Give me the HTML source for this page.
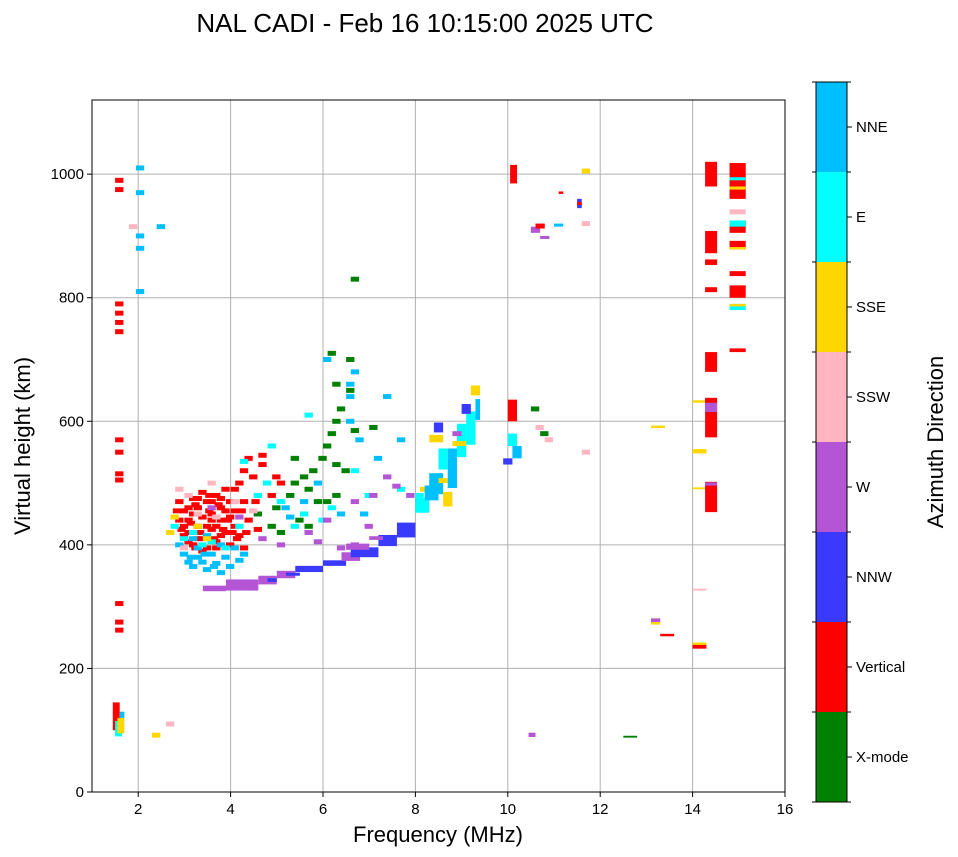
<!DOCTYPE html>
<html><head><meta charset="utf-8"><style>
body{margin:0;background:#fff}
svg{display:block;font-family:"Liberation Sans",sans-serif}
</style></head><body>
<svg id="chart" width="958" height="857">
<text x="425" y="32" text-anchor="middle" font-size="26">NAL CADI - Feb 16 10:15:00 2025 UTC</text>
<g id="grid"></g><g id="marks"></g><g id="axes"></g><g id="cbar"></g>
<text x="438" y="842" text-anchor="middle" font-size="22">Frequency (MHz)</text>
<text transform="translate(30,446) rotate(-90)" text-anchor="middle" font-size="22">Virtual height (km)</text>
<text transform="translate(943,442) rotate(-90)" text-anchor="middle" font-size="22">Azimuth Direction</text>
</svg>
<script>
const categories=["X-mode","Vertical","NNW","W","SSW","SSE","E","NNE"];
const catColors=["#008000","#ff0000","#3a3aff","#b455d6","#ffb6c1","#ffd700","#00ffff","#00bfff"];
const xTicks=[2,4,6,8,10,12,14,16];
const yTicks=[0,200,400,600,800,1000];
// single cells: [freq MHz, height km, category]
const cells=[
[2.8,470,1],[2.9,455,1],[3.0,440,1],[3.0,420,1],[3.1,475,1],[3.1,400,1],[3.2,460,1],[3.2,430,1],[3.3,485,1],[3.3,445,1],[3.3,410,1],[3.4,470,1],[3.4,395,1],[3.5,450,1],[3.5,425,1],[3.6,480,1],[3.6,405,1],[3.7,460,1],[3.7,440,1],[3.8,420,1],[3.8,490,1],[3.9,470,1],[3.9,400,1],[4.0,455,1],[4.0,430,1],[4.1,500,1],[4.1,415,1],[4.2,520,1],[4.2,470,1],[4.3,440,1],[4.4,510,1],[4.5,425,1],[2.9,430,1],[3.0,460,1],[3.2,410,1],[3.5,470,1],[3.6,430,1],[2.8,440,1],[3.1,450,1],[3.4,430,1],[3.7,415,1],[3.9,445,1],[4.0,490,1],[4.3,540,1],[4.6,530,1],[4.8,480,1],[5.0,500,1],[3.3,390,1],[3.6,395,1],[4.2,395,1],[3.0,405,1],[3.5,440,1],[3.8,455,1],[2.9,415,1],[3.2,475,1],
[2.85,425,1],[3.05,435,1],[3.15,465,1],[3.25,420,1],[3.45,455,1],[3.55,410,1],[3.65,465,1],[3.75,425,1],[3.85,440,1],[3.95,420,1],[4.05,410,1],[4.15,455,1],[3.45,480,1],[3.15,395,1],[4.45,470,1],[4.25,420,1],[3.7,475,1],[4.6,545,1],[4.9,510,1],[2.75,455,1],
[2.9,385,7],[3.0,372,7],[3.1,365,7],[3.2,380,7],[3.3,372,7],[3.4,360,7],[3.5,385,7],[3.6,370,7],[3.7,355,7],[3.8,380,7],[3.9,365,7],[4.0,395,7],[4.1,375,7],[4.2,385,7],[2.8,400,7],[3.1,410,7],[3.4,415,7],[3.7,400,7],[4.4,330,7],[4.0,340,7],[3.2,395,7],[5.1,460,7],[5.2,445,7],[5.5,470,7],[5.8,500,7],[6.5,640,7],[6.5,600,7],[6.6,680,7],[6.5,660,7],[6.7,570,7],[6.3,450,7],[6.8,450,7],[7.1,540,7],[7.3,640,7],[7.6,570,7],[1.95,1010,7],[1.95,970,7],[1.95,900,7],[1.95,880,7],[1.95,810,7],[2.4,915,7],[6.0,700,7],[3.35,385,7],[3.05,380,7],[3.55,365,7],
[2.7,430,6],[2.9,410,6],[3.1,420,6],[3.3,400,6],[3.5,405,6],[3.8,395,6],[4.1,430,6],[4.5,480,6],[4.7,500,6],[5.0,470,6],[5.3,430,6],[5.5,450,6],[5.9,440,6],[6.1,460,6],[4.2,535,6],[6.6,520,6],[6.9,480,6],[7.6,490,6],[8.0,480,6],[8.3,500,6],[4.8,560,6],[5.6,610,6],
[4.5,450,0],[4.8,430,0],[5.0,420,0],[5.2,480,0],[5.3,500,0],[5.5,510,0],[5.6,490,0],[5.7,520,0],[5.8,470,0],[5.9,540,0],[6.0,560,0],[6.1,580,0],[6.2,600,0],[6.0,470,0],[6.3,620,0],[6.2,660,0],[6.4,520,0],[6.5,650,0],[6.5,700,0],[6.6,585,0],[6.2,480,0],[5.6,430,0],[5.4,440,0],[4.9,460,0],[6.6,830,0],[7.0,590,0],[6.1,710,0],[5.3,540,0],[10.5,620,0],[10.7,580,0],[6.2,530,0],
[4.6,410,3],[5.0,400,3],[5.6,420,3],[6.0,440,3],[6.6,470,3],[7.0,480,3],[7.3,510,3],[7.5,495,3],[7.8,480,3],[8.0,470,3],[6.3,395,3],[5.8,405,3],[6.6,400,3],[6.9,430,3],[3.5,460,3],[4.1,445,3],
[2.8,490,4],[3.0,480,4],[3.2,450,4],[3.6,445,4],[4.0,470,4],[2.9,395,4],[3.5,500,4],[4.4,455,4],[1.8,915,4],[2.6,110,4],[10.6,590,4],[11.6,920,4],[11.6,550,4],[10.8,570,4],
[2.6,420,5],[2.7,445,5],[3.2,430,5],[3.4,410,5],[2.3,92,5],[11.6,1005,5],[8.1,490,5],
[1.5,990,1],[1.5,975,1],[1.5,790,1],[1.5,775,1],[1.5,760,1],[1.5,745,1],[1.5,570,1],[1.5,550,1],[1.5,505,1],[1.5,275,1],[1.5,262,1],[1.5,305,1],[1.5,515,1]
];
// blocks: [f0, f1, h0, h1, category]
const blocks=[
[3.4,3.9,325,334,3],[3.9,4.6,326,344,3],[4.6,5.0,336,350,3],[4.8,5.0,340,346,2],[5.0,5.4,346,358,3],[5.2,5.5,350,355,2],[5.4,6.0,356,366,2],[6.0,6.5,366,375,2],[6.4,6.8,374,388,3],[6.6,7.2,380,396,2],[6.5,7.0,392,402,3],[7.2,7.6,398,416,2],[7.6,8.0,412,436,2],[7.0,7.3,408,414,3],
[8.0,8.3,452,476,6],[8.2,8.5,472,496,7],[8.3,8.6,482,516,7],[8.5,8.7,522,556,6],[8.5,8.7,500,508,5],[8.7,8.9,492,556,7],[8.9,9.1,542,596,6],[8.8,9.1,560,568,5],[8.8,9.0,576,584,3],[9.1,9.3,562,616,6],[9.2,9.4,642,658,5],[9.3,9.4,602,636,7],[8.4,8.6,582,598,2],[8.3,8.6,566,578,5],[9.0,9.2,612,628,2],[8.6,8.8,462,486,5],
[10.05,10.2,985,1015,1],[10.0,10.2,600,635,1],[10.0,10.2,560,580,6],[10.1,10.3,540,560,7],[9.9,10.1,530,540,2],[10.5,10.7,905,915,3],[10.7,10.9,895,900,3],[10.6,10.8,912,920,1],[11.0,11.2,915,920,7],[11.5,11.6,945,960,2],[11.5,11.6,950,955,1],[11.1,11.2,968,972,1],[10.45,10.6,89,96,3],[12.5,12.8,88,91,0],[13.1,13.3,275,281,3],[13.1,13.3,271,275,5],[13.3,13.6,252,256,1],[14.0,14.3,232,240,1],[14.0,14.3,238,242,5],[14.0,14.3,326,329,4],[14.0,14.3,490,493,5],[14.0,14.3,548,555,5],[14.0,14.3,630,634,5],[13.1,13.4,589,593,5],
[14.27,14.53,980,1020,1],[14.27,14.53,872,908,1],[14.27,14.53,853,862,1],[14.27,14.53,809,817,1],[14.27,14.53,680,712,1],[14.27,14.53,574,638,1],[14.27,14.53,615,630,3],[14.27,14.53,453,502,1],[14.27,14.53,496,501,3],
[14.8,15.15,960,1018,1],[14.8,15.15,990,995,6],[14.8,15.15,975,980,5],[14.8,15.15,935,943,4],[14.8,15.15,905,925,1],[14.8,15.15,915,925,6],[14.8,15.15,878,892,1],[14.8,15.15,878,882,5],[14.8,15.15,835,843,1],[14.8,15.15,800,820,1],[14.8,15.15,780,790,6],[14.8,15.15,786,790,5],[14.8,15.15,712,718,1],
[1.45,1.6,100,145,1],[1.5,1.65,90,115,6],[1.55,1.7,95,120,5],[1.6,1.7,120,130,7]
];
const X0=92,X1=785,Y0=792,Y1=100,FMIN=1,FMAX=16,HMIN=0,HMAX=1120;
function xs(f){return X0+(f-FMIN)/(FMAX-FMIN)*(X1-X0);}
function ys(h){return Y0-(h-HMIN)/(HMAX-HMIN)*(Y0-Y1);}
const NS="http://www.w3.org/2000/svg";
function mk(tag,attrs,parent){const e=document.createElementNS(NS,tag);for(const k in attrs)e.setAttribute(k,attrs[k]);parent.appendChild(e);return e;}
const grid=document.getElementById('grid'),marks=document.getElementById('marks'),axes=document.getElementById('axes'),cbar=document.getElementById('cbar');
xTicks.forEach(t=>{
 if(t<16){const l=mk('line',{x1:xs(t),x2:xs(t),y1:Y1,y2:Y0,stroke:'#b0b0b0','stroke-width':1},grid);
 
 }
 mk('line',{x1:xs(t),x2:xs(t),y1:Y0,y2:Y0+5,stroke:'#000'},axes);
 const tx=mk('text',{x:xs(t),y:Y0+22,'text-anchor':'middle','font-size':15},axes);tx.textContent=t;
 
 
});
yTicks.forEach(t=>{
 if(t>0){const l=mk('line',{x1:X0,x2:X1,y1:ys(t),y2:ys(t),stroke:'#b0b0b0','stroke-width':1},grid);
 
 }
 mk('line',{x1:X0-5,x2:X0,y1:ys(t),y2:ys(t),stroke:'#000'},axes);
 const tx=mk('text',{x:X0-8,y:ys(t)+5,'text-anchor':'end','font-size':15},axes);tx.textContent=t;
 
 
});
cells.forEach(c=>{
 const r=mk('rect',{x:xs(c[0]),y:ys(c[1]+4),width:xs(c[0]+0.18)-xs(c[0]),height:ys(0)-ys(8),fill:catColors[c[2]]},marks);
 
 
});
blocks.forEach(b=>{
 const r=mk('rect',{x:xs(b[0]),y:ys(b[3]),width:xs(b[1])-xs(b[0]),height:ys(b[2])-ys(b[3]),fill:catColors[b[4]]},marks);
 
 
});
const fr=mk('rect',{x:X0,y:Y1,width:X1-X0,height:Y0-Y1,fill:'none',stroke:'#000'},axes);


const CB0=802,CB1=82,CBX=816,CBW=31,seg=(CB0-CB1)/categories.length;
categories.forEach((c,i)=>{
 const r=mk('rect',{x:CBX,y:CB0-(i+1)*seg,width:CBW,height:seg,fill:catColors[i]},cbar);
 
 
 const yc=CB0-(i+0.5)*seg;
 mk('line',{x1:CBX+CBW,x2:CBX+CBW+5,y1:yc,y2:yc,stroke:'#000'},cbar);
 const t=mk('text',{x:856,y:yc+5,'font-size':15},cbar);t.textContent=c;
 
 
});
for(let i=0;i<=categories.length;i++){const y=CB0-i*seg;mk('line',{x1:CBX,x2:CBX-4,y1:y,y2:y,stroke:'#000'},cbar);mk('line',{x1:CBX+CBW,x2:CBX+CBW+4,y1:y,y2:y,stroke:'#000'},cbar);}
mk('rect',{x:CBX,y:CB1,width:CBW,height:CB0-CB1,fill:'none',stroke:'#000'},cbar);
</script>
</body></html>
